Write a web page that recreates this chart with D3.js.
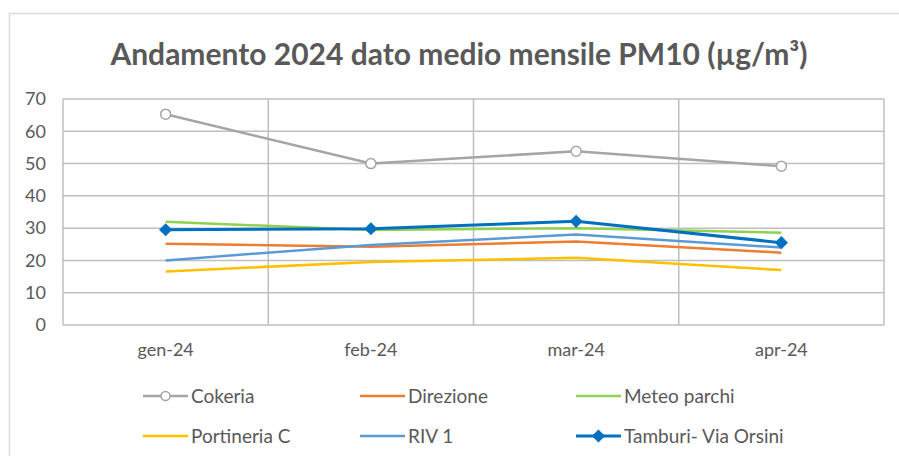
<!DOCTYPE html>
<html>
<head>
<meta charset="utf-8">
<script src="https://cdn.jsdelivr.net/npm/d3@7"></script>
<style>
  body { margin: 0; background: #fff; }
  svg text { font-family: Lato, "Open Sans", sans-serif; fill: #595959; }
</style>
</head>
<body>
<div id="chart"></div>
<script>
var w = 899;
var h = 456;

// data
var months = ["gen-24", "feb-24", "mar-24", "apr-24"];
var yTicks = [0, 10, 20, 30, 40, 50, 60, 70];
var cokeria = [65.3, 50.0, 53.8, 49.2];
var direzione = [25.2, 24.2, 25.9, 22.4];
var meteoParchi = [32.0, 29.4, 30.0, 28.6];
var portineriaC = [16.6, 19.5, 20.8, 17.0];
var riv1 = [20.0, 24.8, 28.0, 24.0];
var tamburi = [29.5, 29.8, 32.1, 25.5];

var seriesNames = ["Cokeria", "Direzione", "Meteo parchi", "Portineria C", "RIV 1", "Tamburi- Via Orsini"];
var seriesValues = [cokeria, direzione, meteoParchi, portineriaC, riv1, tamburi];
var seriesColors = ["#a5a5a5", "#ed7d31", "#92d050", "#ffc000", "#5b9bd5", "#0070c0"];
var seriesMarkers = ["circle", null, null, null, null, "diamond"];

var margin = {top: 99, right: 15, bottom: 131, left: 63};

var svg = d3.select("#chart")
            .append("svg")
            .attr("width", w)
            .attr("height", h);

// outer chart frame
svg.append("rect")
   .attr("x", 9.5)
   .attr("y", 13.5)
   .attr("width", w)
   .attr("height", h)
   .attr("fill", "none")
   .attr("stroke", "#d9d9d9")
   .attr("stroke-width", 1.5);

svg.append("text")
   .attr("x", 459)
   .attr("y", 65)
   .attr("text-anchor", "middle")
   .style("font-size", "30px")
   .style("font-weight", "bold")
   .text("Andamento 2024 dato medio mensile PM10 (µg/m³)");

var x = d3.scaleBand()
          .domain(months)
          .range([margin.left, w - margin.right]);

var y = d3.scaleLinear()
          .domain([0, 70])
          .range([h - margin.bottom, margin.top]);

var grid = svg.append("g").attr("class", "grid");

// horizontal gridlines
grid.selectAll("line.hgrid")
    .data(yTicks)
    .enter()
    .append("line")
    .attr("class", "hgrid")
    .attr("x1", margin.left)
    .attr("x2", w - margin.right)
    .attr("y1", function(d){ return y(d); })
    .attr("y2", function(d){ return y(d); })
    .attr("stroke", "#bfbfbf")
    .attr("stroke-width", 1.5);

// vertical gridlines at band edges
var edges = months.map(function(m){ return x(m); }).concat([w - margin.right]);
grid.selectAll("line.vgrid")
    .data(edges)
    .enter()
    .append("line")
    .attr("class", "vgrid")
    .attr("x1", function(d){ return d; })
    .attr("x2", function(d){ return d; })
    .attr("y1", y(0))
    .attr("y2", y(70))
    .attr("stroke", "#bfbfbf")
    .attr("stroke-width", 1.5);

// y axis labels
var yAxis = svg.append("g")
               .attr("transform", "translate(" + (margin.left - 17) + ",0)")
               .call(d3.axisLeft(y).tickValues(yTicks).tickSize(0).tickPadding(0));
yAxis.select(".domain").remove();
yAxis.selectAll("text")
     .style("font-size", "18px")
     .attr("fill", null);

// x axis labels
var xAxis = svg.append("g")
               .attr("transform", "translate(0," + (y(0) + 18) + ")")
               .call(d3.axisBottom(x).tickSize(0).tickPadding(0));
xAxis.select(".domain").remove();
xAxis.selectAll("text")
     .style("font-size", "18px")
     .attr("fill", null);

var line = d3.line()
             .x(function(d, i){ return x(months[i]) + x.bandwidth() / 2; })
             .y(function(d){ return y(d); });

// draw order follows the picture: later series on top
var drawOrder = [0, 1, 2, 3, 4, 5];
drawOrder.forEach(function(s){
  var g = svg.append("g").attr("class", "series");
  g.append("path")
   .datum(seriesValues[s])
   .attr("d", line)
   .attr("fill", "none")
   .attr("stroke", seriesColors[s])
   .attr("stroke-width", s == 5 ? 3 : 2.5)
   .attr("stroke-linejoin", "round");

  if (seriesMarkers[s] == "circle"){
    g.selectAll("circle")
     .data(seriesValues[s])
     .enter()
     .append("circle")
     .attr("cx", function(d, i){ return x(months[i]) + x.bandwidth() / 2; })
     .attr("cy", function(d){ return y(d); })
     .attr("r", 5)
     .attr("fill", "#fff")
     .attr("stroke", seriesColors[s])
     .attr("stroke-width", 1.5);
  } else if (seriesMarkers[s] == "diamond"){
    g.selectAll("path.marker")
     .data(seriesValues[s])
     .enter()
     .append("path")
     .attr("class", "marker")
     .attr("d", d3.symbol().type(d3.symbolDiamond2).size(110))
     .attr("transform", function(d, i){
       return "translate(" + (x(months[i]) + x.bandwidth() / 2) + "," + y(d) + ")";
     })
     .attr("fill", seriesColors[s]);
  }
});

// legend: 3 columns, 2 rows
var legend = svg.append("g").attr("class", "legend");
var colX = [143, 360, 576];
var rowY = [396, 436];

seriesNames.forEach(function(name, i){
  var lx = colX[i % 3];
  var ly = rowY[Math.floor(i / 3)];
  var item = legend.append("g").attr("transform", "translate(" + lx + "," + ly + ")");
  item.append("line")
      .attr("x1", 0)
      .attr("x2", 45)
      .attr("y1", 0)
      .attr("y2", 0)
      .attr("stroke", seriesColors[i])
      .attr("stroke-width", i == 5 ? 3 : 2.5);
  if (seriesMarkers[i] == "circle"){
    item.append("circle")
        .attr("cx", 22.5)
        .attr("cy", 0)
        .attr("r", 4.5)
        .attr("fill", "#fff")
        .attr("stroke", seriesColors[i])
        .attr("stroke-width", 1.5);
  } else if (seriesMarkers[i] == "diamond"){
    item.append("path")
        .attr("d", d3.symbol().type(d3.symbolDiamond2).size(110))
        .attr("transform", "translate(22.5,0)")
        .attr("fill", seriesColors[i]);
  }
  item.append("text")
      .attr("x", 48)
      .attr("y", 0)
      .attr("dy", "0.35em")
      .style("font-size", "19px")
      .text(name);
});
</script>
</body>
</html>
